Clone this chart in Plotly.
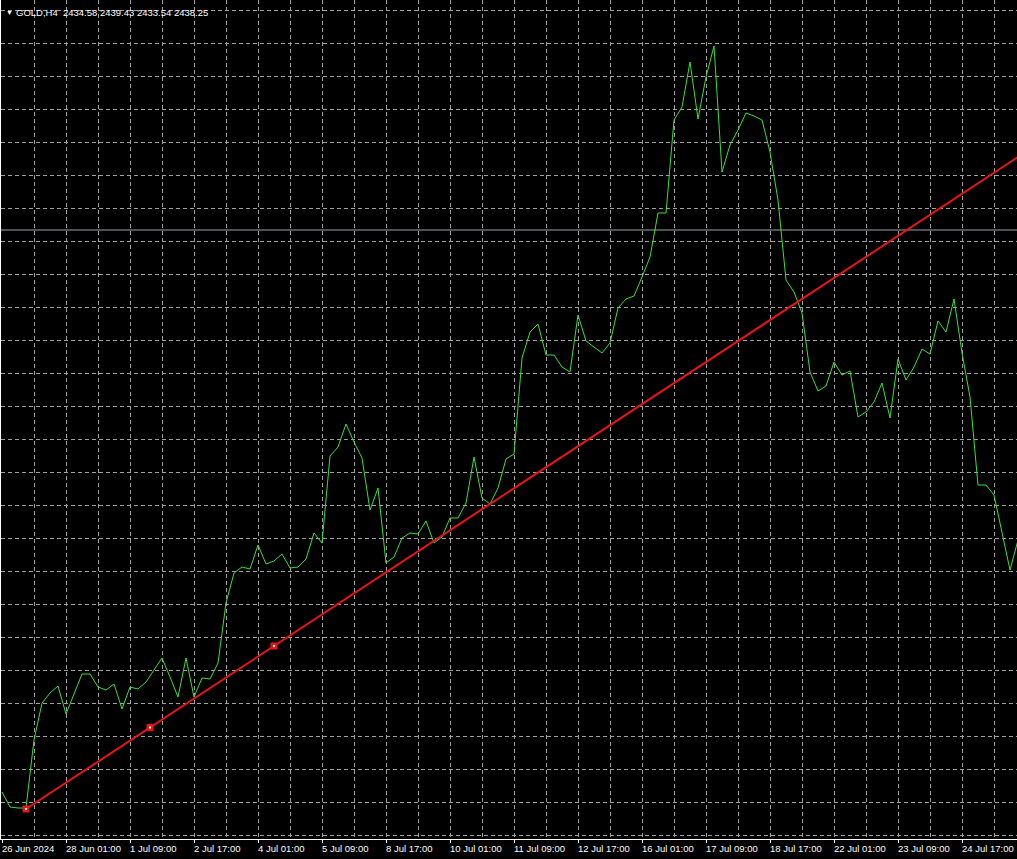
import plotly.graph_objects as go

# ---- data ----
bar_index = list(range(128))
close = [
    2297.75, 2294.00, 2293.75, 2293.75, 2310.75, 2320.00, 2322.50, 2324.25, 2317.25, 2322.25,
    2327.25, 2327.25, 2324.00, 2323.25, 2324.75, 2318.50, 2324.00, 2323.50, 2325.25, 2328.25,
    2331.25, 2326.50, 2321.50, 2331.25, 2321.50, 2326.25, 2326.00, 2330.00, 2345.00, 2352.50,
    2354.00, 2353.50, 2359.50, 2354.75, 2355.50, 2357.25, 2353.75, 2354.00, 2356.00, 2362.50,
    2360.00, 2381.75, 2384.00, 2389.75, 2385.25, 2381.25, 2368.25, 2373.75, 2355.00, 2356.50,
    2361.25, 2362.50, 2362.25, 2365.50, 2360.00, 2361.50, 2366.25, 2366.25, 2370.00, 2381.50,
    2371.25, 2369.75, 2373.75, 2381.00, 2382.25, 2406.25, 2412.75, 2414.75, 2407.00, 2407.00,
    2404.00, 2402.75, 2417.00, 2410.50, 2409.00, 2407.50, 2410.00, 2418.75, 2421.00, 2421.75,
    2426.50, 2431.50, 2442.50, 2442.50, 2465.75, 2469.00, 2480.25, 2466.00, 2476.50, 2484.25,
    2452.75, 2459.50, 2463.25, 2467.50, 2466.75, 2465.75, 2457.75, 2445.75, 2425.75, 2422.75,
    2417.50, 2402.75, 2398.00, 2399.25, 2405.25, 2402.00, 2403.00, 2391.50, 2392.75, 2395.25,
    2400.00, 2391.25, 2406.00, 2400.75, 2404.00, 2408.50, 2407.25, 2415.50, 2412.75, 2421.00,
    2407.50, 2396.50, 2374.50, 2374.50, 2372.00, 2362.75, 2353.25, 2360.75,
]

tick_bars = [0, 8, 16, 24, 32, 40, 48, 56, 64, 72, 80, 88, 96, 104, 112, 120]
tick_labels = ["26 Jun 2024", "28 Jun 01:00", "1 Jul 09:00", "2 Jul 17:00",
               "4 Jul 01:00", "5 Jul 09:00", "8 Jul 17:00", "10 Jul 01:00",
               "11 Jul 09:00", "12 Jul 17:00", "16 Jul 01:00", "17 Jul 09:00",
               "18 Jul 17:00", "22 Jul 01:00", "23 Jul 09:00", "24 Jul 17:00"]

trend_bars = [3, 34]
trend_prices = [2293.50, 2334.25]

bid_price = 2438.25
symbol = "GOLD,H4"
ohlc = ["2434.58", "2439.43", "2433.54", "2438.25"]

# ---- styling ----
GRID = "#a0a0a0"
DASH = "4px,3px"
FONT = "Tahoma, 'Liberation Sans', Arial, sans-serif"
X_RANGE = [-0.125, 126.875]
Y_RANGE = [2286.0, 2495.75]

# trend ray: extend the line through both anchors to beyond the right edge
slope = (trend_prices[1] - trend_prices[0]) / (trend_bars[1] - trend_bars[0])
ray_end = X_RANGE[1] + 2
ray_x = [trend_bars[0], ray_end]
ray_y = [trend_prices[0], trend_prices[0] + slope * (ray_end - trend_bars[0])]
mid_bar = (trend_bars[0] + trend_bars[1]) / 2
mid_price = (trend_prices[0] + trend_prices[1]) / 2
anchor_x = [trend_bars[0], mid_bar, trend_bars[1]]
anchor_y = [trend_prices[0], mid_price, trend_prices[1]]

fig = go.Figure()
fig.add_trace(go.Scatter(x=bar_index, y=close, mode="lines",
                         line=dict(color="#38e038", width=1),
                         hoverinfo="skip", showlegend=False))
fig.add_trace(go.Scatter(x=ray_x, y=ray_y, mode="lines",
                         line=dict(color="#e81515", width=2),
                         hoverinfo="skip", showlegend=False))
fig.add_trace(go.Scatter(x=anchor_x, y=anchor_y, mode="markers",
                         marker=dict(symbol="square", size=7, color="#e81515",
                                     line=dict(width=0)),
                         hoverinfo="skip", showlegend=False))
fig.add_trace(go.Scatter(x=anchor_x, y=anchor_y, mode="markers",
                         marker=dict(symbol="square", size=2, color="white",
                                     line=dict(width=0)),
                         hoverinfo="skip", showlegend=False))

fig.add_shape(type="line", xref="paper", x0=0, x1=1, yref="y",
              y0=bid_price, y1=bid_price, layer="between",
              line=dict(color="#9aa4b0", width=1))

annotations = []
annotations.append(dict(text="\u25BC", xref="paper", x=0, xshift=8, xanchor="center",
                        yref="paper", y=1, yshift=-12, yanchor="middle",
                        showarrow=False, font=dict(family=FONT, size=7, color="white")))
annotations.append(dict(text=symbol + "\u00a0\u00a0" + " ".join(ohlc),
                        xref="paper", x=0, xshift=13, xanchor="left",
                        yref="paper", y=1, yshift=-12, yanchor="middle",
                        showarrow=False, font=dict(family=FONT, size=9.5, color="white")))
for b, lab in zip(tick_bars, tick_labels):
    annotations.append(dict(text=lab, xref="x", x=b, xshift=-2, xanchor="left",
                            yref="paper", y=0, yshift=-9, yanchor="middle",
                            showarrow=False, font=dict(family=FONT, size=9.5, color="white")))

fig.update_layout(
    width=1017, height=859,
    margin=dict(l=1, r=0, t=0, b=20, pad=0),
    paper_bgcolor="black", plot_bgcolor="black",
    showlegend=False,
    annotations=annotations,
    xaxis=dict(range=X_RANGE, tickmode="array", tickvals=tick_bars,
               showticklabels=False, ticks="outside", ticklen=3,
               tickcolor="white", tickwidth=1,
               showline=True, linecolor="white", linewidth=1,
               showgrid=True, gridcolor=GRID, gridwidth=1, griddash=DASH,
               minor=dict(dtick=4, tick0=0, showgrid=True, gridcolor=GRID,
                          gridwidth=1, griddash=DASH, ticks=""),
               zeroline=False, fixedrange=True),
    yaxis=dict(range=Y_RANGE, tick0=2286.925, dtick=8.25,
               showticklabels=False, ticks="",
               showline=True, linecolor="white", linewidth=1,
               showgrid=True, gridcolor=GRID, gridwidth=1, griddash=DASH,
               zeroline=False, fixedrange=True),
)

page_css = ("document.body.style.margin='0';"
            "document.body.style.padding='0';"
            "document.body.style.background='black';"
            "document.body.style.overflow='hidden';"
            "document.documentElement.style.overflow='hidden';")

fig.write_html("out.html", config={"displayModeBar": False}, post_script=page_css)
